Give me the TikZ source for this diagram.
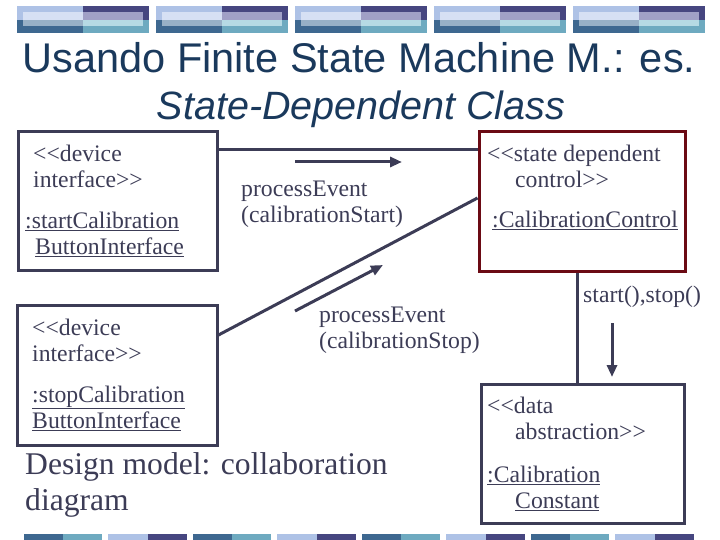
\documentclass[tikz,border=0pt]{standalone}
\usepackage{fontspec}
\setmainfont{Liberation Serif}
\newfontfamily\headfont{Liberation Sans}
\usetikzlibrary{arrows.meta}
\definecolor{ink}{HTML}{3C3C56}
\definecolor{headblue}{HTML}{1A395C}
\definecolor{ctrlred}{HTML}{6B0A14}
\definecolor{barlight}{HTML}{AEC2E6}
\definecolor{barnavy}{HTML}{464680}
\definecolor{barsteel}{HTML}{3E6890}
\definecolor{barteal}{HTML}{6EAAC0}
\definecolor{inlight}{HTML}{D6E0F4}
\definecolor{innavy}{HTML}{A0A0C6}
\definecolor{insteel}{HTML}{98B0C6}
\definecolor{inteal}{HTML}{B6DAE4}
\newcommand{\stOpen}{{<}{<}}
\newcommand{\stClose}{{>}{>}}

\begin{document}
\begin{tikzpicture}[x=1pt,y=-1pt,
    obj/.style={draw=ink,line width=3pt,inner sep=0pt},
    boxtext/.style={anchor=north west,inner sep=0pt,align=left,text=ink,
      font=\fontsize{23.7}{26}\selectfont},
    link/.style={draw=ink,line width=3pt},
    msg/.style={draw=ink,line width=3pt,-{Triangle[length=12pt,width=10pt]}}]
  \useasboundingbox (0,0) rectangle (720,540);
  % header and footer bars
  \foreach \bx in {17,156,295,434,573} {
    \fill[barlight] (\bx,6) rectangle (\bx+66,20);
    \fill[barnavy] (\bx+66,6) rectangle (\bx+132,20);
    \fill[barsteel] (\bx,20) rectangle (\bx+66,33);
    \fill[barteal] (\bx+66,20) rectangle (\bx+132,33);
    \fill[inlight] (\bx+6,12) rectangle (\bx+66,20);
    \fill[innavy] (\bx+66,12) rectangle (\bx+126,20);
    \fill[insteel] (\bx+6,20) rectangle (\bx+66,26);
    \fill[inteal] (\bx+66,20) rectangle (\bx+126,26);
  }
  \foreach \bx in {24,193,362,531} {
    \fill[barsteel] (\bx,534) rectangle (\bx+39,540);
    \fill[barteal] (\bx+39,534) rectangle (\bx+78,540);
  }
  \foreach \bx in {108,277,446,615} {
    \fill[barlight] (\bx,534) rectangle (\bx+40,540);
    \fill[barnavy] (\bx+40,534) rectangle (\bx+79,540);
  }
  % title
  \node[anchor=base,text=headblue,font=\headfont\fontsize{41.5}{48}\selectfont] (title) at (359,73) {Usando Finite State Machine M.: es.};
  \node[anchor=base,text=headblue,font=\headfont\itshape\fontsize{39.5}{46}\selectfont] (subtitle) at (361,120) {State-Dependent Class};

  % objects
  \node[obj,minimum width=199pt,minimum height=138pt] (startBtn) at (117.5,201) {};
  \node[obj,minimum width=200pt,minimum height=140pt] (stopBtn) at (117,375) {};
  \node[obj,draw=ctrlred,minimum width=206pt,minimum height=139pt] (calCtrl) at (582,201.5) {};
  \node[obj,minimum width=203pt,minimum height=139pt] (calConst) at (582.5,453.5) {};

  \node[boxtext] (startType) at (33,142.8) {\strut\stOpen device\\interface\stClose};
  \node[boxtext] (startName) at (25,209.8) {\strut\underline{:startCalibration}\\\hspace*{10pt}\underline{ButtonInterface}};
  \node[boxtext] (stopType) at (32,316.8) {\strut\stOpen device\\interface\stClose};
  \node[boxtext] (stopName) at (32,383.8) {\strut\underline{:stopCalibration}\\\underline{ButtonInterface}};
  \node[boxtext] (ctrlType) at (487,142.8) {\strut\stOpen state dependent\\\hspace*{28pt}control\stClose};
  \node[boxtext] (ctrlName) at (492,208.8) {\strut\underline{:CalibrationControl}};
  \node[boxtext] (constType) at (487,394.8) {\strut\stOpen data\\\hspace*{28pt}abstraction\stClose};
  \node[boxtext] (constName) at (487,463.8) {\strut\underline{:Calibration}\\\hspace*{28pt}\underline{Constant}};

  % links
  \draw[link] (startBtn.east |- 0,150) -- (calCtrl.west |- 0,150);
  \draw[link] (stopBtn.east |- 0,335) -- (calCtrl.west |- 0,198);
  \draw[link] (calCtrl.south -| 577,0) -- (calConst.north -| 577,0);

  % messages
  \coordinate (startTail) at (295,162);
  \coordinate (startHead) at (402,162);
  \coordinate (stopTail) at (295,311);
  \coordinate (stopHead) at (383,265);
  \coordinate (ctrlTail) at (612,323);
  \coordinate (ctrlHead) at (612,377);
  \draw[msg] (startTail) -- (startHead);
  \draw[msg] (stopTail) -- (stopHead);
  \draw[msg] (ctrlTail) -- (ctrlHead);
  \node[boxtext] (startMsg) at (241,177.8) {\strut processEvent\\(calibrationStart)};
  \node[boxtext] (stopMsg) at (319,303.8) {\strut processEvent\\(calibrationStop)};
  \node[boxtext] (ctrlMsg) at (583,283.8) {\strut start(),stop()};

  \node[boxtext,font=\fontsize{31.6}{36}\selectfont] (caption) at (25,448.8) {\strut Design model: collaboration\\diagram};
\end{tikzpicture}
\end{document}
